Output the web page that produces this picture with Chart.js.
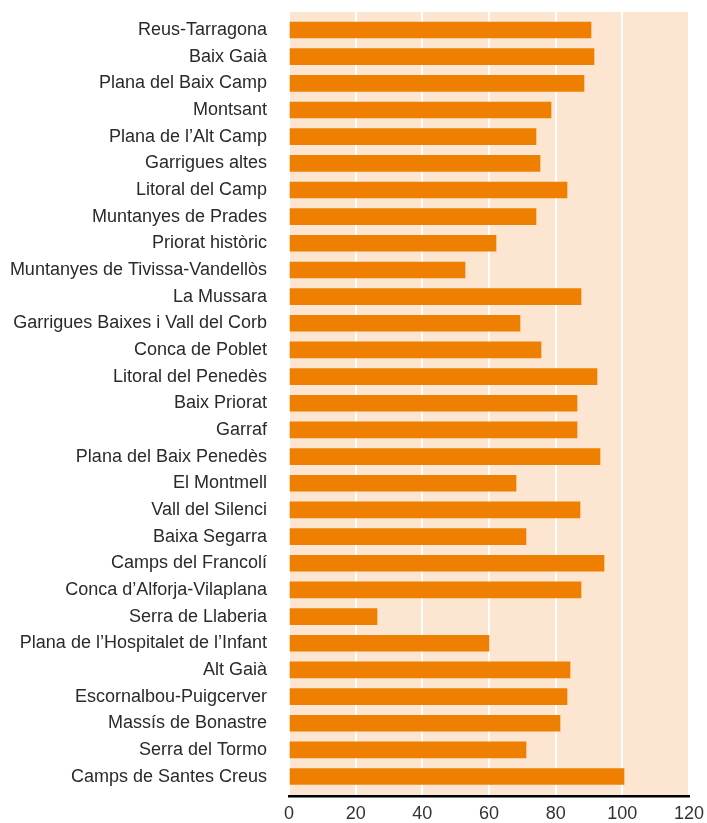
<!DOCTYPE html>
<html>
<head>
<meta charset="utf-8">
<script src="https://cdn.jsdelivr.net/npm/chart.js@4/dist/chart.umd.min.js"></script>
<style>
  html, body { margin: 0; padding: 0; background: #ffffff; }
  #wrap { width: 707px; height: 823px; position: relative; }
</style>
</head>
<body>
<div id="wrap"><canvas id="zonesChart"></canvas></div>
<script>
const zoneNames = [
    "Reus-Tarragona", "Baix Gaià", "Plana del Baix Camp", "Montsant",
    "Plana de l’Alt Camp", "Garrigues altes", "Litoral del Camp",
    "Muntanyes de Prades", "Priorat històric", "Muntanyes de Tivissa-Vandellòs",
    "La Mussara", "Garrigues Baixes i Vall del Corb", "Conca de Poblet",
    "Litoral del Penedès", "Baix Priorat", "Garraf", "Plana del Baix Penedès",
    "El Montmell", "Vall del Silenci", "Baixa Segarra", "Camps del Francolí",
    "Conca d’Alforja-Vilaplana", "Serra de Llaberia",
    "Plana de l’Hospitalet de l’Infant", "Alt Gaià", "Escornalbou-Puigcerver",
    "Massís de Bonastre", "Serra del Tormo", "Camps de Santes Creus"
];
const zoneValues = [
    90.6, 91.5, 88.5, 78.6, 74.1, 75.3, 83.4, 74.1, 62.1, 52.8,
    87.6, 69.3, 75.6, 92.4, 86.4, 86.4, 93.3, 68.1, 87.3, 71.1,
    94.5, 87.6, 26.4, 60.0, 84.3, 83.4, 81.3, 71.1, 100.5
];
const axisMin = 0;
const axisMax = 120;
const axisStep = 20;

// Category rows run from index 0 (top) to 28 (bottom), with a little extra room at both ends
const rowMin = -0.675;
const rowMax = zoneNames.length - 1 + 0.73;

const barColor = "#ef7f00";
const plotBackground = "#fde6d1";
const fontFamily = "'Liberation Sans', Arial, sans-serif";

// Fill the plot area behind the bars
const plotBackgroundPlugin = {
    id: "plotBackground",
    beforeDraw: (chart) => {
        const { ctx, chartArea } = chart;
        ctx.save();
        ctx.fillStyle = plotBackground;
        ctx.fillRect(chartArea.left, chartArea.top, chartArea.right - chartArea.left, chartArea.bottom - chartArea.top);
        ctx.restore();
    }
};

const barPoints = zoneValues.map((value, index) => ({ x: value, y: index }));

const chartElement = document.getElementById("zonesChart").getContext("2d");

new Chart(chartElement, {
    type: "bar",
    data: {
        datasets: [{
            data: barPoints,
            backgroundColor: barColor,
            borderWidth: 0,
            barThickness: 16
        }]
    },
    options: {
        indexAxis: "y",
        responsive: true,
        maintainAspectRatio: false,
        animation: false,
        layout: {
            padding: { top: 12, right: 18, bottom: 0, left: 0 }
        },
        plugins: {
            legend: { display: false },
            tooltip: { enabled: false }
        },
        scales: {
            x: {
                type: "linear",
                min: axisMin,
                max: axisMax,
                ticks: {
                    stepSize: axisStep,
                    padding: 7,
                    color: "#333333",
                    font: { family: fontFamily, size: 18 }
                },
                grid: {
                    color: "#ffffff",
                    lineWidth: 2,
                    drawTicks: false
                },
                border: {
                    display: true,
                    color: "#000000",
                    width: 2.5
                },
                afterFit: (scale) => {
                    scale.height = 27;
                    scale.paddingLeft = 0;
                    scale.paddingRight = 0;
                }
            },
            y: {
                type: "linear",
                reverse: true,
                min: rowMin,
                max: rowMax,
                offset: false,
                afterBuildTicks: (scale) => {
                    scale.ticks = zoneNames.map((name, index) => ({ value: index }));
                },
                ticks: {
                    padding: 22,
                    color: "#2a2a2a",
                    autoSkip: false,
                    font: { family: fontFamily, size: 18 },
                    callback: (value) => zoneNames[value]
                },
                grid: { display: false, drawTicks: false },
                border: { display: false },
                afterFit: (scale) => {
                    scale.width = 289;
                    scale.paddingTop = 0;
                    scale.paddingBottom = 0;
                }
            }
        }
    },
    plugins: [plotBackgroundPlugin]
});
</script>
</body>
</html>
